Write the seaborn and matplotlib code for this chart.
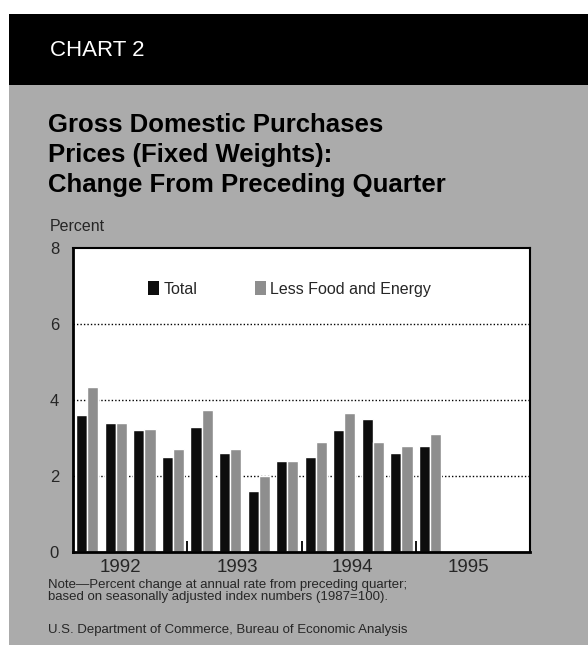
import numpy as np
import pandas as pd
import matplotlib
matplotlib.use("Agg")
import matplotlib.pyplot as plt
from matplotlib.patches import Rectangle, Patch
import matplotlib.transforms as mtransforms
import seaborn as sns

# ---- data ----
quarters = [f"{y}Q{q}" for y in (1992, 1993, 1994, 1995) for q in (1, 2, 3, 4)]
data_quarters = quarters[:13]
total = [3.6, 3.4, 3.2, 2.5, 3.3, 2.6, 1.6, 2.4, 2.5, 3.2, 3.5, 2.6, 2.8]
less_food_energy = [4.35, 3.4, 3.25, 2.7, 3.75, 2.7, 2.0, 2.4, 2.9, 3.65, 2.9, 2.8, 3.1]
series_names = ["Total", "Less Food and Energy"]
year_labels = ["1992", "1993", "1994", "1995"]
y_ticks = [0, 2, 4, 6, 8]

title_lines = ["Gross Domestic Purchases", "Prices (Fixed Weights):", "Change From Preceding Quarter"]
note_lines = ["Note\u2014Percent change at annual rate from preceding quarter;",
              "based on seasonally adjusted index numbers (1987=100)."]
source = "U.S. Department of Commerce, Bureau of Economic Analysis"

df = pd.DataFrame({
    "quarter": data_quarters * 2,
    "value": total + less_food_energy,
    "series": [series_names[0]] * 13 + [series_names[1]] * 13,
})

BLACK = "#0d0d0d"
BARGRAY = "#8e8e8e"
BGGRAY = "#ababab"

sns.set_style("white")
plt.rcParams["font.family"] = ["Liberation Sans", "DejaVu Sans"]

W, H = 588, 645
fig = plt.figure(figsize=(W / 100, H / 100), dpi=100)
fig.patch.set_facecolor("white")


def fx(x):
    return x / W


def fy(y):
    return 1 - y / H


# background panels
fig.add_artist(Rectangle((fx(9), 0), 1 - fx(9), fy(85), transform=fig.transFigure,
                         facecolor=BGGRAY, edgecolor="none", zorder=-10))
fig.add_artist(Rectangle((fx(9), fy(85)), 1 - fx(9), fy(14) - fy(85), transform=fig.transFigure,
                         facecolor="black", edgecolor="none", zorder=-10))

# header + title
fig.text(fx(50), fy(56), "CHART 2", color="white", fontsize=16, va="baseline", ha="left")
for i, line in enumerate(title_lines):
    fig.text(fx(48), fy(132 + i * 30), line, color="black", fontsize=18.5, fontweight="bold",
             va="baseline", ha="left")
fig.text(fx(50), fy(231), "Percent", fontsize=11.5, va="baseline", ha="left")

# axes
L, T, R, B = 73, 248, 530, 552
ax = fig.add_axes([fx(L), fy(B), fx(R - L), (B - T) / H])
ax.set_facecolor("white")

sns.barplot(data=df, x="quarter", y="value", hue="series", order=quarters,
            hue_order=series_names, palette=[BLACK, BARGRAY], width=0.78,
            dodge=True, saturation=1, ax=ax, legend=False, zorder=2)

for yv in y_ticks[1:-1]:
    ax.axhline(yv, color="black", linestyle=(0, (1, 1.5)), linewidth=1.0, zorder=1)

ax.set_xlim(-0.5, len(quarters) - 0.5)
ax.set_ylim(0, 8)
ax.set_yticks(y_ticks)
ax.set_yticklabels([str(v) for v in y_ticks], fontsize=12)
ax.tick_params(axis="y", length=0, pad=10)

ax.set_xticks([1.15, 5.25, 9.27, 13.33])
ax.set_xticklabels(year_labels, fontsize=13.5)
ax.tick_params(axis="x", which="major", length=0, pad=5)
ax.minorticks_off()
ax.set_xlabel("")
ax.set_ylabel("")

# year separators (short tick marks rising from the baseline)
trans = mtransforms.blended_transform_factory(ax.transData, ax.transAxes)
for xb in (3.5, 7.5, 11.5):
    ax.plot([xb, xb], [0, 11 / (B - T)], transform=trans, color="black", lw=1.3,
            solid_capstyle="butt", zorder=4, clip_on=False)

for side, lw in (("left", 2.0), ("bottom", 2.0), ("top", 1.5), ("right", 1.5)):
    ax.spines[side].set_visible(True)
    ax.spines[side].set_color("black")
    ax.spines[side].set_linewidth(lw)
    ax.spines[side].set_zorder(5)

handles = [Patch(facecolor=BLACK, edgecolor="none"), Patch(facecolor=BARGRAY, edgecolor="none")]
ax.legend(handles, series_names, ncol=2, frameon=False, fontsize=11.5,
          loc="center left", bbox_to_anchor=((148 - L) / (R - L), (B - 289) / (B - T)),
          borderpad=0, borderaxespad=0, handlelength=0.7, handleheight=0.9,
          handletextpad=0.25, columnspacing=3.6)

# notes
fig.text(fx(48), fy(588), note_lines[0], fontsize=9.5, va="baseline", ha="left")
fig.text(fx(48), fy(600), note_lines[1], fontsize=9.5, va="baseline", ha="left")
fig.text(fx(48), fy(633), source, fontsize=9.5, va="baseline", ha="left")

fig.savefig("out.png", dpi=100, facecolor=fig.get_facecolor())
